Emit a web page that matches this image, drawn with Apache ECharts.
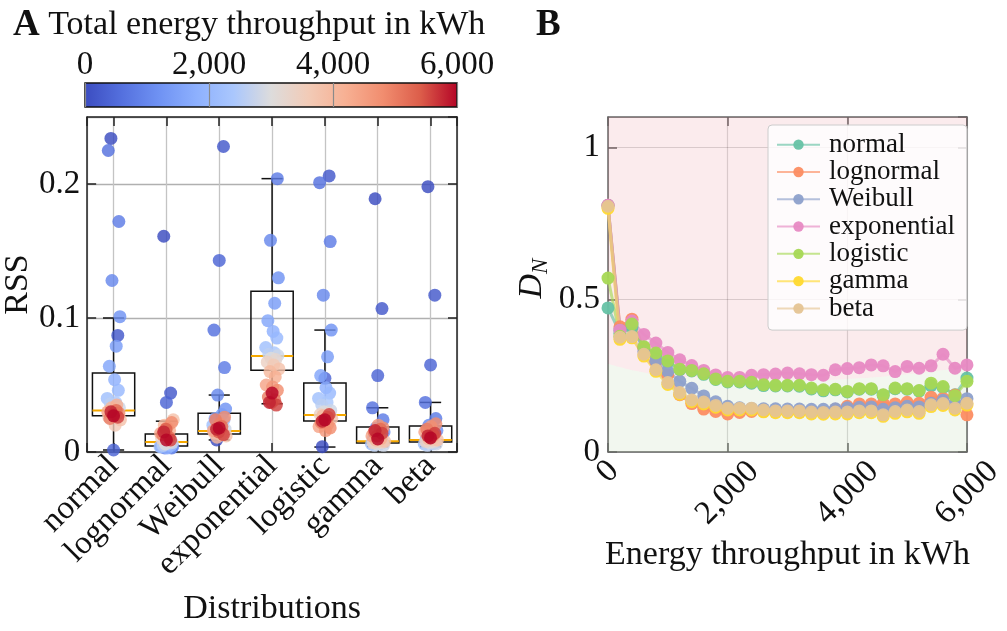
<!DOCTYPE html>
<html>
<head>
<meta charset="utf-8">
<script src="https://cdn.jsdelivr.net/npm/echarts@6/dist/echarts.min.js"></script>
<style>
  html, body { margin: 0; background: #fff; }
  #main { width: 1007px; height: 631px; }
</style>
</head>
<body>
<div id="main"></div>
<script>
// ---- data ----
const CATS = ['normal', 'lognormal', 'Weibull', 'exponential', 'logistic', 'gamma', 'beta'];
const ENERGY = [0, 200, 400, 600, 800, 1000, 1200, 1400, 1600, 1800, 2000, 2200, 2400, 2600, 2800,
  3000, 3200, 3400, 3600, 3800, 4000, 4200, 4400, 4600, 4800, 5000, 5200, 5400, 5600, 5800, 6000];

// panel A: RSS per fitted distribution, one value per energy step
const RSS_NORMAL = [0.234, 0.087, 0.0015, 0.225, 0.172, 0.128, 0.101, 0.079, 0.064, 0.054,
  0.046, 0.040, 0.037, 0.036, 0.033, 0.031, 0.028, 0.026, 0.020, 0.024,
  0.033, 0.035, 0.030, 0.027, 0.029, 0.025, 0.031, 0.028, 0.026, 0.030, 0.027];
const RSS_LOGNORMAL = [0.161, 0.044, 0.037, 0.004, 0.003, 0.003, 0.004, 0.005, 0.004, 0.003,
  0.005, 0.004, 0.006, 0.005, 0.007, 0.006, 0.008, 0.010, 0.012, 0.024,
  0.020, 0.016, 0.014, 0.018, 0.022, 0.013, 0.011, 0.017, 0.009, 0.015, 0.009];
const RSS_WEIBULL = [0.009, 0.228, 0.143, 0.091, 0.063, 0.0425, 0.032, 0.028, 0.025, 0.022,
  0.024, 0.020, 0.019, 0.018, 0.017, 0.016, 0.015, 0.014, 0.013, 0.012,
  0.011, 0.014, 0.016, 0.021, 0.026, 0.024, 0.019, 0.015, 0.013, 0.017, 0.018];
const RSS_EXPONENTIAL = [0.52, 0.41, 0.33, 0.27, 0.204, 0.158, 0.130, 0.111, 0.098, 0.090,
  0.085, 0.078, 0.074, 0.073, 0.072, 0.070, 0.069, 0.067, 0.065, 0.062,
  0.060, 0.056, 0.050, 0.0485, 0.046, 0.041, 0.039, 0.037, 0.035, 0.037, 0.044];
const RSS_LOGISTIC = [0.004, 0.206, 0.055, 0.201, 0.157, 0.117, 0.091, 0.071, 0.057, 0.048,
  0.044, 0.040, 0.037, 0.035, 0.031, 0.030, 0.029, 0.028, 0.026, 0.025,
  0.027, 0.021, 0.019, 0.016, 0.018, 0.022, 0.026, 0.024, 0.028, 0.023, 0.024];
const RSS_GAMMA = [0.189, 0.107, 0.057, 0.033, 0.024, 0.018, 0.015, 0.012, 0.010, 0.008,
  0.007, 0.006, 0.006, 0.005, 0.005, 0.006, 0.007, 0.007, 0.008, 0.008,
  0.009, 0.010, 0.012, 0.020, 0.018, 0.015, 0.017, 0.012, 0.014, 0.016, 0.0097];
const RSS_BETA = [0.198, 0.117, 0.065, 0.037, 0.025, 0.020, 0.016, 0.012, 0.010, 0.008,
  0.007, 0.006, 0.006, 0.005, 0.006, 0.007, 0.008, 0.008, 0.009, 0.009,
  0.010, 0.012, 0.015, 0.019, 0.021, 0.017, 0.013, 0.011, 0.014, 0.012, 0.0105];

// box stats: [lower whisker, Q1, median, Q3, upper whisker]
const BOX_NORMAL = [0.0015, 0.027, 0.031, 0.059, 0.100];
const BOX_LOGNORMAL = [0.002, 0.0045, 0.0075, 0.0134, 0.023];
const BOX_WEIBULL = [0.009, 0.0134, 0.0157, 0.029, 0.0425];
const BOX_EXPONENTIAL = [0.036, 0.061, 0.0716, 0.120, 0.204];
const BOX_LOGISTIC = [0.0037, 0.0231, 0.0276, 0.0515, 0.091];
const BOX_GAMMA = [0.004, 0.0067, 0.008, 0.0187, 0.033];
const BOX_BETA = [0.004, 0.0075, 0.009, 0.0194, 0.037];

// panel B: KS statistic D_N per energy step
const DN_NORMAL = [0.473, 0.39, 0.41, 0.343, 0.322, 0.296, 0.270, 0.266, 0.255, 0.238,
  0.230, 0.230, 0.226, 0.218, 0.217, 0.217, 0.216, 0.207, 0.201, 0.204,
  0.197, 0.206, 0.206, 0.186, 0.208, 0.206, 0.200, 0.218, 0.212, 0.188, 0.243];
const DN_LOGNORMAL = [0.81, 0.411, 0.436, 0.341, 0.297, 0.253, 0.188, 0.159, 0.141,
  0.133, 0.125, 0.130, 0.133, 0.133, 0.133, 0.133, 0.132, 0.131, 0.130,
  0.140, 0.150, 0.158, 0.158, 0.160, 0.158, 0.163, 0.160, 0.180, 0.176, 0.187, 0.122];
const DN_WEIBULL = [0.81, 0.40, 0.42, 0.33, 0.299, 0.265, 0.232, 0.209, 0.184, 0.165,
  0.150, 0.145, 0.143, 0.142, 0.142, 0.141, 0.141, 0.140, 0.140, 0.142,
  0.145, 0.147, 0.148, 0.140, 0.145, 0.150, 0.148, 0.160, 0.170, 0.160, 0.175];
const DN_EXPONENTIAL = [0.81, 0.40, 0.43, 0.386, 0.358, 0.327, 0.303, 0.284, 0.268, 0.253,
  0.245, 0.245, 0.252, 0.254, 0.256, 0.259, 0.257, 0.254, 0.252, 0.270,
  0.274, 0.277, 0.286, 0.283, 0.264, 0.281, 0.275, 0.283, 0.321, 0.275, 0.286];
const DN_LOGISTIC = [0.571, 0.38, 0.42, 0.346, 0.325, 0.299, 0.272, 0.268, 0.257, 0.240,
  0.232, 0.232, 0.229, 0.221, 0.219, 0.219, 0.219, 0.210, 0.204, 0.206,
  0.199, 0.208, 0.208, 0.188, 0.210, 0.208, 0.202, 0.226, 0.215, 0.185, 0.232];
const DN_GAMMA = [0.80, 0.37, 0.375, 0.315, 0.265, 0.222, 0.19, 0.165, 0.158, 0.147,
  0.138, 0.138, 0.138, 0.132, 0.129, 0.129, 0.129, 0.125, 0.124, 0.125,
  0.125, 0.129, 0.129, 0.117, 0.127, 0.132, 0.127, 0.149, 0.153, 0.138, 0.154];
const DN_BETA = [0.807, 0.377, 0.379, 0.321, 0.270, 0.228, 0.195, 0.171, 0.164, 0.153,
  0.144, 0.144, 0.144, 0.138, 0.135, 0.135, 0.135, 0.131, 0.130, 0.131,
  0.131, 0.135, 0.135, 0.122, 0.133, 0.138, 0.133, 0.155, 0.159, 0.144, 0.160];

// critical value curve (green below = accepted, pink above = rejected)
const CRIT_ENERGY = [0, 500, 1000, 2000, 3000, 4000, 5000, 6000];
const CRIT_DN = [0.29, 0.265, 0.25, 0.24, 0.235, 0.24, 0.255, 0.28];

// ---- style ----
const FONT = 'Liberation Serif';
const TXT = '#111';
const SET2 = ['#66c2a5', '#fc8d62', '#8da0cb', '#e78ac3', '#a6d854', '#ffd92f', '#e5c494'];
const COOLWARM = ['#3b4cc0', '#5470de', '#6f92f3', '#8db0fe', '#aac7fd', '#dddcdc',
  '#f2cbb7', '#f7b093', '#f18d6f', '#dc5d4a', '#b40426'];
// horizontal jitter of the strip points (category units)
const JITTER = [-0.05, 0.08, 0.0, -0.1, 0.1, -0.03, 0.12, 0.05, -0.08, 0.02, 0.09, -0.12, 0.04,
  -0.06, 0.11, -0.02, 0.07, -0.09, 0.03, 0.13, -0.04, 0.06, -0.11, 0.01, 0.1, -0.07, 0.05,
  -0.01, 0.08, -0.05, 0.0];

const RSS = [RSS_NORMAL, RSS_LOGNORMAL, RSS_WEIBULL, RSS_EXPONENTIAL, RSS_LOGISTIC, RSS_GAMMA, RSS_BETA];
const BOXES = [BOX_NORMAL, BOX_LOGNORMAL, BOX_WEIBULL, BOX_EXPONENTIAL, BOX_LOGISTIC, BOX_GAMMA, BOX_BETA];
const DN = [DN_NORMAL, DN_LOGNORMAL, DN_WEIBULL, DN_EXPONENTIAL, DN_LOGISTIC, DN_GAMMA, DN_BETA];

const stripData = [];
RSS.forEach(function (vals, c) {
  vals.forEach(function (v, i) {
    stripData.push([c + JITTER[i], v, ENERGY[i]]);
  });
});
const boxData = BOXES.map(function (b, c) { return [c].concat(b); });

const fmtK = function (v) { return v.toLocaleString('en-US'); };
const tickFont = { fontFamily: FONT, fontSize: 33, color: TXT };
const nameFont = { fontFamily: FONT, fontSize: 34, color: TXT };
const frameA = { show: true, onZero: false, lineStyle: { color: '#222', width: 1.5 } };
const frameB = { show: true, onZero: false, lineStyle: { color: '#666', width: 1.5 } };
const tickIn = function (color) {
  return { show: true, inside: true, length: 9, lineStyle: { color: color, width: 1.5 } };
};

const chart = echarts.init(document.getElementById('main'), null, { renderer: 'canvas' });

const stops = COOLWARM.map(function (c, i) { return { offset: i / (COOLWARM.length - 1), color: c }; });

const option = {
  animation: false,
  backgroundColor: '#fff',
  title: [
    {
      text: '{a|A}{t| Total energy throughput in kWh}',
      left: 8, top: 2,
      textStyle: {
        rich: {
          a: { fontFamily: FONT, fontSize: 37, fontWeight: 'bold', color: TXT },
          t: { fontFamily: FONT, fontSize: 34, fontWeight: 'normal', color: TXT }
        }
      }
    },
    {
      text: 'B', left: 531, top: 2,
      textStyle: { fontFamily: FONT, fontSize: 37, fontWeight: 'bold', color: TXT }
    }
  ],
  grid: [
    { left: 84, top: 117, width: 373, height: 335 },
    { left: 85, top: 83, width: 372, height: 24 },
    { left: 608, top: 117, width: 372, height: 335 }
  ],
  legend: {
    data: CATS,
    orient: 'vertical',
    left: 768, top: 125,
    itemWidth: 43, itemHeight: 13, itemGap: 0,
    padding: [6, 12, 8, 8],
    backgroundColor: 'rgba(255,255,255,0.8)',
    borderColor: '#ccc', borderWidth: 1, borderRadius: 4,
    textStyle: { fontFamily: FONT, fontSize: 27, lineHeight: 27.3, color: TXT, padding: [0, 0, 0, 4] }
  },
  visualMap: {
    type: 'continuous', show: false,
    seriesIndex: 1, dimension: 2,
    min: 0, max: 6000,
    inRange: { color: COOLWARM }
  },
  xAxis: [
    {
      gridIndex: 0, type: 'value', min: -0.5, max: 6.5, splitNumber: 7,
      minInterval: 1, maxInterval: 1,
      axisLine: frameA, axisTick: tickIn('#222'),
      axisLabel: Object.assign({
        rotate: 45, margin: 9,
        formatter: function (v) { return CATS[v] || ''; }
      }, tickFont),
      splitLine: { show: true, lineStyle: { color: '#c4c4c4', width: 1.3 } },
      name: 'Distributions', nameLocation: 'middle', nameGap: 140,
      nameTextStyle: nameFont
    },
    {
      gridIndex: 0, type: 'value', position: 'top', min: -0.5, max: 6.5, splitNumber: 7,
      minInterval: 1, maxInterval: 1,
      axisLine: frameA, axisTick: tickIn('#222'), axisLabel: { show: false },
      splitLine: { show: false }
    },
    {
      gridIndex: 1, type: 'value', position: 'top', min: 0, max: 6000, interval: 2000, z: 10,
      axisLine: { show: false }, axisTick: { show: false },
      axisLabel: Object.assign({ margin: 1, formatter: fmtK }, tickFont),
      splitLine: { show: true, lineStyle: { color: '#8a8a8a', width: 1.2 } }
    },
    {
      gridIndex: 2, type: 'value', min: 0, max: 6000, interval: 2000,
      axisLine: frameB, axisTick: tickIn('#666'),
      axisLabel: {
        rotate: 45, margin: 41, align: 'center', verticalAlign: 'middle',
        formatter: function (v) { return v === 0 ? '{z|0}' : '{n|' + fmtK(v) + '}'; },
        rich: {
          z: Object.assign({ padding: [0, 0, 30, 30] }, tickFont),
          n: Object.assign({}, tickFont)
        }
      },
      splitLine: { show: true, lineStyle: { color: 'rgba(0,0,0,0.15)', width: 1.2 } },
      name: 'Energy throughput in kWh', nameLocation: 'middle', nameGap: 79,
      nameTextStyle: nameFont
    },
    {
      gridIndex: 2, type: 'value', position: 'top', min: 0, max: 6000, interval: 2000,
      axisLine: frameB, axisTick: tickIn('#666'), axisLabel: { show: false },
      splitLine: { show: false }
    }
  ],
  yAxis: [
    {
      gridIndex: 0, type: 'value', min: 0, max: 0.25, interval: 0.1,
      axisLine: frameA, axisTick: tickIn('#222'),
      axisLabel: Object.assign({ margin: 7, showMaxLabel: false }, tickFont),
      splitLine: { show: true, lineStyle: { color: '#b0b0b0', width: 1.3 } },
      name: 'RSS', nameLocation: 'middle', nameGap: 52,
      nameTextStyle: nameFont
    },
    {
      gridIndex: 0, type: 'value', position: 'right', min: 0, max: 0.25, interval: 0.1,
      axisLine: frameA, axisTick: tickIn('#222'), axisLabel: { show: false },
      splitLine: { show: false }
    },
    { gridIndex: 1, type: 'value', min: 0, max: 1, show: false },
    {
      gridIndex: 2, type: 'value', min: 0, max: 1.1, interval: 0.5,
      axisLine: frameB, axisTick: tickIn('#666'),
      axisLabel: Object.assign({ margin: 8, showMaxLabel: false }, tickFont),
      splitLine: { show: true, lineStyle: { color: 'rgba(0,0,0,0.15)', width: 1.2 } },
      name: '{d|D}{n|N}', nameLocation: 'middle', nameGap: 56, nameMoveOverlap: false,
      nameTextStyle: {
        padding: [0, 0, 0, 12],
        rich: {
          d: { fontFamily: FONT, fontSize: 34, fontStyle: 'italic', color: TXT },
          n: { fontFamily: FONT, fontSize: 23, fontStyle: 'italic', color: TXT, padding: [16, 0, 0, 0] }
        }
      }
    },
    {
      gridIndex: 2, type: 'value', position: 'right', min: 0, max: 1.1, interval: 0.5,
      axisLine: frameB, axisTick: tickIn('#666'), axisLabel: { show: false },
      splitLine: { show: false }
    }
  ],
  series: [
    {
      type: 'custom', name: 'box', xAxisIndex: 0, yAxisIndex: 0, z: 2, silent: true,
      data: boxData,
      encode: { x: 0, y: [1, 2, 3, 4, 5] },
      renderItem: function (params, api) {
        const x = api.value(0);
        const bw = api.size([0.8, 0])[0];
        const lo = api.coord([x, api.value(1)]);
        const q1 = api.coord([x, api.value(2)]);
        const md = api.coord([x, api.value(3)]);
        const q3 = api.coord([x, api.value(4)]);
        const hi = api.coord([x, api.value(5)]);
        const cx = lo[0];
        const cap = bw / 4;
        const ls = { stroke: '#111', lineWidth: 1.5 };
        return {
          type: 'group',
          children: [
            { type: 'line', shape: { x1: cx, y1: q3[1], x2: cx, y2: hi[1] }, style: ls },
            { type: 'line', shape: { x1: cx, y1: q1[1], x2: cx, y2: lo[1] }, style: ls },
            { type: 'line', shape: { x1: cx - cap, y1: hi[1], x2: cx + cap, y2: hi[1] }, style: ls },
            { type: 'line', shape: { x1: cx - cap, y1: lo[1], x2: cx + cap, y2: lo[1] }, style: ls },
            { type: 'rect', shape: { x: cx - bw / 2, y: q3[1], width: bw, height: q1[1] - q3[1] },
              style: { stroke: '#111', lineWidth: 1.5, fill: 'none' } },
            { type: 'line', shape: { x1: cx - bw / 2, y1: md[1], x2: cx + bw / 2, y2: md[1] },
              style: { stroke: '#f5a800', lineWidth: 2 } }
          ]
        };
      }
    },
    {
      type: 'scatter', name: 'rss', xAxisIndex: 0, yAxisIndex: 0, z: 3,
      data: stripData, symbolSize: 13, clip: true,
      itemStyle: { opacity: 0.82 }
    },
    {
      type: 'custom', name: 'colorbar', xAxisIndex: 2, yAxisIndex: 2, z: 2, silent: true,
      data: [[0, 6000]],
      encode: { x: [0, 1] },
      renderItem: function (params, api) {
        const a = api.coord([api.value(0), 0]);
        const b = api.coord([api.value(1), 1]);
        return {
          type: 'rect',
          shape: { x: a[0], y: b[1], width: b[0] - a[0], height: a[1] - b[1] },
          style: { fill: new echarts.graphic.LinearGradient(0, 0, 1, 0, stops), stroke: '#111', lineWidth: 1.5 }
        };
      }
    },
    {
      type: 'line', name: 'accept', xAxisIndex: 3, yAxisIndex: 3, z: 1, silent: true,
      data: CRIT_ENERGY.map(function (e, i) { return [e, CRIT_DN[i]]; }),
      smooth: true, showSymbol: false, symbol: 'none',
      lineStyle: { width: 0 },
      areaStyle: { origin: 'start', color: 'rgba(135,182,102,0.15)' }
    },
    {
      type: 'line', name: 'reject', xAxisIndex: 3, yAxisIndex: 3, z: 1, silent: true,
      data: CRIT_ENERGY.map(function (e, i) { return [e, CRIT_DN[i]]; }),
      smooth: true, showSymbol: false, symbol: 'none',
      lineStyle: { width: 0 },
      areaStyle: { origin: 'end', color: 'rgba(215,68,88,0.15)' }
    }
  ].concat(DN.map(function (vals, k) {
    return {
      type: 'line', name: CATS[k], xAxisIndex: 3, yAxisIndex: 3, z: 3,
      data: ENERGY.map(function (e, i) { return [e, vals[i]]; }),
      color: SET2[k],
      symbol: 'circle', symbolSize: 13, showSymbol: true,
      lineStyle: { width: 3, opacity: 0.65 },
      itemStyle: { opacity: 0.95 },
      emphasis: { disabled: true }
    };
  }))
};

chart.setOption(option);
</script>
</body>
</html>
